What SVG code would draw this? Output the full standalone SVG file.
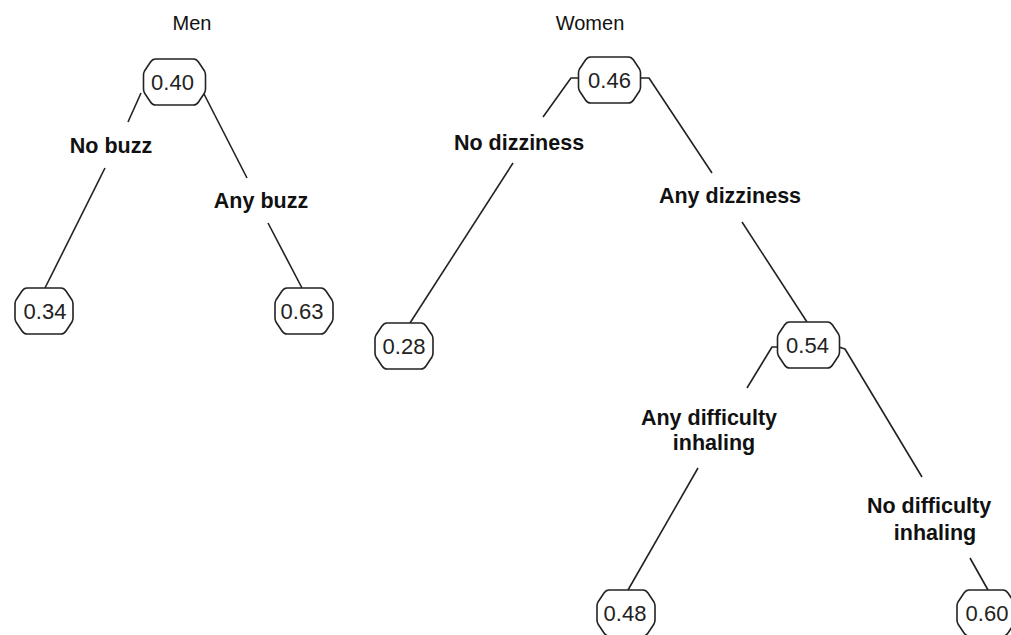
<svg xmlns="http://www.w3.org/2000/svg" xmlns:xlink="http://www.w3.org/1999/xlink" width="1011" height="635" viewBox="0 0 1011 635">
<style>
.title{font-family:"Liberation Sans",Arial,sans-serif;font-size:20px;fill:#111;text-anchor:middle}
.lbl{font-family:"Liberation Sans",Arial,sans-serif;font-size:21.5px;font-weight:bold;fill:#111;text-anchor:middle}
.val{font-family:"Liberation Sans",Arial,sans-serif;font-size:22px;fill:#222;text-anchor:middle}
.shape{fill:#fff;stroke:#222;stroke-width:1.6;stroke-linejoin:round}
.conn path{fill:none;stroke:#222;stroke-width:1.6;stroke-linejoin:round}
</style>
<defs>
<path id="oct" d="M-19,-23 H19 Q22,-23 24,-20 L30,-11 Q31,-9 31,-7 V7 Q31,9 30,11 L24,20 Q22,23 19,23 H-19 Q-22,23 -24,20 L-30,11 Q-31,9 -31,7 V-7 Q-31,-9 -30,-11 L-24,-20 Q-22,-23 -19,-23 Z"/>
<path id="octs" d="M-17,-23 H17 Q20,-23 22,-20 L28,-11 Q29,-9 29,-7 V7 Q29,9 28,11 L22,20 Q20,23 17,23 H-17 Q-20,23 -22,20 L-28,11 Q-29,9 -29,7 V-7 Q-29,-9 -28,-11 L-22,-20 Q-20,-23 -17,-23 Z"/>
</defs>
<rect width="1011" height="635" fill="#fff"/>
<text class="title" x="192" y="30">Men</text>
<text class="title" x="590" y="30">Women</text>
<g class="conn" id="connectors">
<path d="M141,93 L128,122"/>
<path d="M105,168 L45,288"/>
<path d="M204,94 L247,178"/>
<path d="M268,223 L302,288"/>
<path d="M578,78 L571,78 L543,117"/>
<path d="M513,163 L410,323"/>
<path d="M641,78 L649,78 L712,173"/>
<path d="M742,222 L807,322"/>
<path d="M778,347 L772,347 L747,388"/>
<path d="M698,468 L628,590"/>
<path d="M839,347 L845,349 L922,477"/>
<path d="M970,558 L988,590"/>
</g>
<g id="labels">
<text class="lbl" x="111" y="153">No buzz</text>
<text class="lbl" x="261" y="208">Any buzz</text>
<text class="lbl" x="519" y="150">No dizziness</text>
<text class="lbl" x="730" y="203">Any dizziness</text>
<text class="lbl" x="709" y="425">Any difficulty</text>
<text class="lbl" x="714" y="450">inhaling</text>
<text class="lbl" x="929" y="513">No difficulty</text>
<text class="lbl" x="935" y="540">inhaling</text>
</g>
<g id="n040" transform="translate(174.5,82)"><use xlink:href="#oct" class="shape"/><text class="val" x="-2" y="8">0.40</text></g>
<g id="n034" transform="translate(44,311)"><use xlink:href="#octs" class="shape"/><text class="val" x="1" y="8">0.34</text></g>
<g id="n063" transform="translate(304,311)"><use xlink:href="#octs" class="shape"/><text class="val" x="-2" y="8">0.63</text></g>
<g id="n046" transform="translate(609.5,80)"><use xlink:href="#oct" class="shape"/><text class="val" x="0" y="8">0.46</text></g>
<g id="n028" transform="translate(404,346)"><use xlink:href="#octs" class="shape"/><text class="val" x="0" y="8">0.28</text></g>
<g id="n054" transform="translate(808.5,345)"><use xlink:href="#oct" class="shape"/><text class="val" x="-1" y="8">0.54</text></g>
<g id="n048" transform="translate(626,613)"><use xlink:href="#octs" class="shape"/><text class="val" x="-1" y="8">0.48</text></g>
<g id="n060" transform="translate(986,613)"><use xlink:href="#octs" class="shape"/><text class="val" x="1" y="8">0.60</text></g>
</svg>
